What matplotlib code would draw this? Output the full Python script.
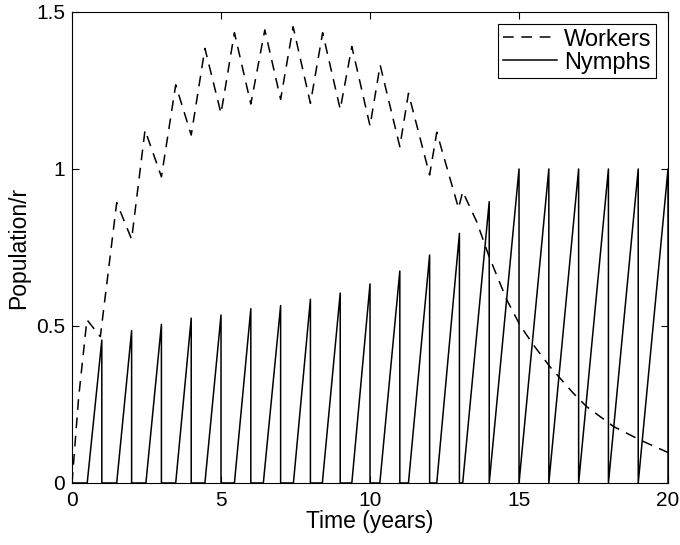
import numpy as np
import matplotlib
matplotlib.use("Agg")
import matplotlib.pyplot as plt

plt.rcParams['font.family'] = ['Liberation Sans', 'DejaVu Sans']

# Workers curve vertices
worker_t = [0, 0.22, 0.5, 0.95, 1.5, 2.0, 2.45, 3.0, 3.48, 4.0, 4.46, 5.0,
            5.45, 6.0, 6.47, 7.0, 7.42, 8.0, 8.41, 9.0, 9.39, 10.0, 10.34,
            11.0, 11.29, 12.0, 12.24, 12.97, 13.11, 13.58, 14.0, 14.59,
            15.03, 15.48, 16.04, 16.82, 17.27, 18.17, 19.06, 20.0]
worker_v = [0, 0.27, 0.52, 0.466, 0.893, 0.776, 1.124, 0.975, 1.268, 1.108,
            1.384, 1.177, 1.434, 1.207, 1.443, 1.222, 1.453, 1.209, 1.434,
            1.19, 1.39, 1.137, 1.331, 1.071, 1.241, 0.981, 1.117, 0.875,
            0.928, 0.832, 0.72, 0.583, 0.503, 0.44, 0.37, 0.286, 0.243,
            0.18, 0.137, 0.097]

# Nymphs: sawtooth, each tooth rises from a start time to a peak at the year
nymph_peak_t = list(range(1, 21))
nymph_start_t = [0.51, 1.5, 2.48, 3.48, 4.46, 5.45, 6.42, 7.43, 8.40, 9.39,
                 10.33, 11.29, 12.24, 13.11, 14.0, 15.0, 16.0, 17.0, 18.0, 19.0]
nymph_peak_v = [0.455, 0.485, 0.505, 0.525, 0.535, 0.555, 0.565, 0.585,
                0.605, 0.634, 0.675, 0.726, 0.795, 0.896, 1.0, 1.0, 1.0,
                1.0, 1.0, 1.0]

# build the sawtooth path
nt = [0]
nv = [0]
for s, p, v in zip(nymph_start_t, nymph_peak_t, nymph_peak_v):
    nt += [s, p, p]
    nv += [0, v, 0]

fig = plt.figure(figsize=(6.8, 5.45), dpi=100)
ax = fig.add_axes([0.1059, 0.1138, 0.8765, 0.8642])

ax.plot(worker_t, worker_v, color='black', lw=1.1, linestyle=(0, (7, 5)),
        label='Workers')
ax.plot(nt, nv, color='black', lw=1.1, label='Nymphs')

ax.set_xlim(0, 20)
ax.set_ylim(0, 1.5)
ax.set_xticks([0, 5, 10, 15, 20])
ax.set_yticks([0, 0.5, 1, 1.5])
ax.set_yticklabels(['0', '0.5', '1', '1.5'])
ax.tick_params(direction='in', top=True, right=True, labelsize=15,
               length=5, width=0.8)
ax.tick_params(axis='x', pad=6)
ax.tick_params(axis='y', pad=5)
ax.set_xlabel('Time (years)', fontsize=16.5, labelpad=0)
ax.set_ylabel('Population/r', fontsize=16.5, labelpad=4)

leg = ax.legend(loc='upper right', fontsize=17, frameon=True, fancybox=False,
                edgecolor='black', framealpha=1, handlelength=2.3,
                handletextpad=0.3, borderpad=0.2, labelspacing=0.05,
                borderaxespad=0.5)
leg.get_frame().set_linewidth(0.8)

fig.savefig('out.png', dpi=100)
